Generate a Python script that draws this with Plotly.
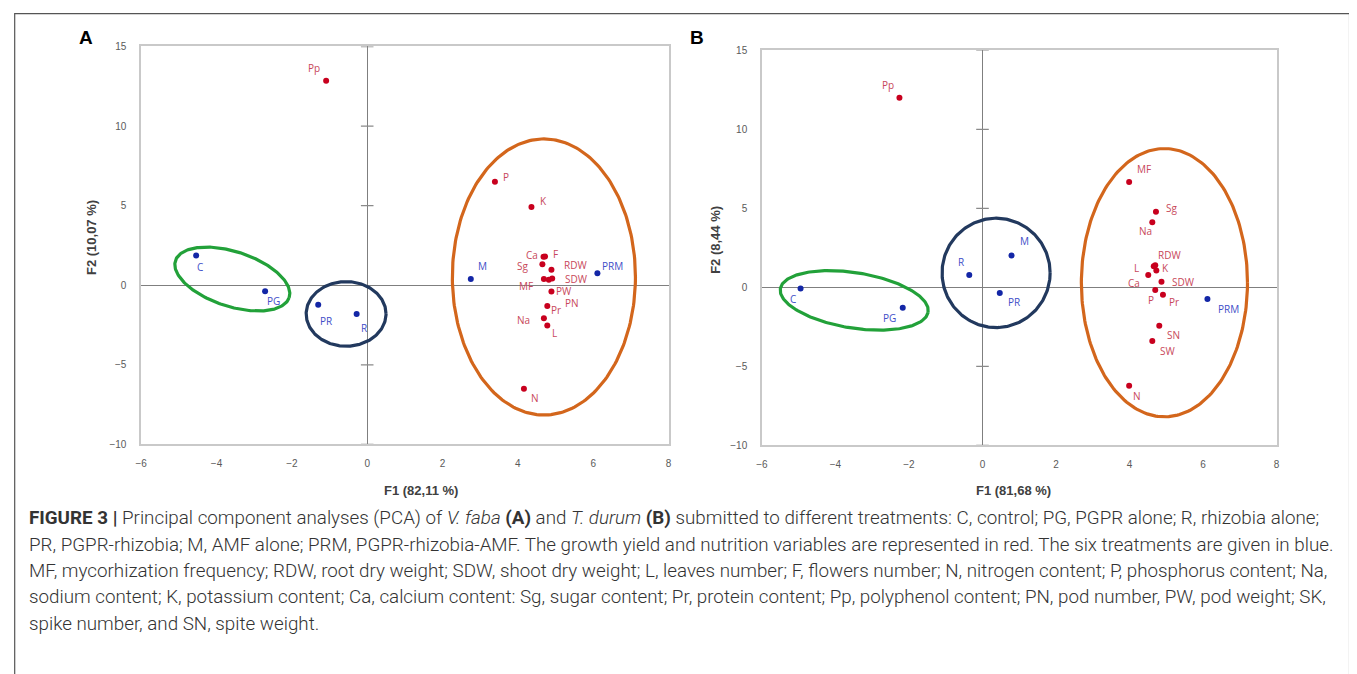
import numpy as np
import plotly.graph_objects as go

# ---------------- data ----------------
# Panel A (V. faba)
a_var_names = ["Pp", "P", "K", "Ca", "F", "Sg", "RDW", "SDW", "MF", "PW", "PN", "Pr", "Na", "L", "N"]
a_var_x = [-1.09, 3.39, 4.36, 4.68, 4.72, 4.65, 4.89, 4.91, 4.69, 4.82, 4.89, 4.78, 4.69, 4.78, 4.16]
a_var_y = [12.84, 6.50, 4.92, 1.79, 1.80, 1.32, 0.97, 0.42, 0.39, 0.35, -0.39, -1.30, -2.08, -2.53, -6.50]
a_trt_names = ["C", "PG", "PR", "R", "M", "PRM"]
a_trt_x = [-4.54, -2.71, -1.30, -0.28, 2.75, 6.11]
a_trt_y = [1.87, -0.37, -1.22, -1.81, 0.39, 0.76]

# Panel B (T. durum)
b_var_names = ["Pp", "MF", "Sg", "Na", "L", "RDW", "K", "Ca", "SDW", "P", "Pr", "SN", "SW", "N"]
b_var_x = [-2.26, 3.99, 4.72, 4.62, 4.66, 4.70, 4.73, 4.51, 4.87, 4.70, 4.91, 4.81, 4.62, 3.99]
b_var_y = [12.00, 6.68, 4.79, 4.13, 1.34, 1.40, 1.07, 0.78, 0.36, -0.16, -0.47, -2.43, -3.39, -6.22]
b_trt_names = ["C", "PG", "R", "M", "PR", "PRM"]
b_trt_x = [-4.95, -2.17, -0.36, 0.79, 0.47, 6.12]
b_trt_y = [-0.07, -1.29, 0.78, 2.02, -0.36, -0.73]

x_ticks = [-6, -4, -2, 0, 2, 4, 6, 8]
y_ticks = [-10, -5, 0, 5, 10, 15]
a_xtitle = "F1 (82,11 %)"
a_ytitle = "F2 (10,07 %)"
b_xtitle = "F1 (81,68 %)"
b_ytitle = "F2 (8,44 %)"

caption_lines = [
    "<b>FIGURE 3 |</b> Principal component analyses (PCA) of <i>V. faba</i> <b>(A)</b> and <i>T. durum</i> <b>(B)</b> submitted to different treatments: C, control; PG, PGPR alone; R, rhizobia alone;",
    "PR, PGPR-rhizobia; M, AMF alone; PRM, PGPR-rhizobia-AMF. The growth yield and nutrition variables are represented in red. The six treatments are given in blue.",
    "MF, mycorhization frequency; RDW, root dry weight; SDW, shoot dry weight; L, leaves number; F, flowers number; N, nitrogen content; P, phosphorus content; Na,",
    "sodium content; K, potassium content; Ca, calcium content: Sg, sugar content; Pr, protein content; Pp, polyphenol content; PN, pod number, PW, pod weight; SK,",
    "spike number, and SN, spite weight.",
]

# ---------------- styling (label offsets in px, dx right, dy down) ----------------
a_var_off = [(-12, -13), (11, -5), (12, -6), (-12, -2), (10, -3), (-20, 2), (24, -5), (24, 0),
             (-18, 7), (15, 11), (21, 12), (9, 4), (-20, 2), (7, 7), (11, 9)]
a_trt_off = [(4, 12), (8, 10), (8, 16), (7, 14), (12, -13), (15, -7)]
b_var_off = [(-11, -13), (15, -13), (16, -4), (-7, 9), (-17, 2), (14, -10), (9, -3), (-14, 8),
             (22, 0), (-4, 10), (11, 7), (14, 9), (15, 10), (8, 10)]
b_trt_off = [(-8, 10), (-13, 10), (-8, -13), (13, -14), (14, 9), (21, 10)]

# ellipses: centre + two conjugate semi-axis vectors in data units
a_ellipses = [((-3.58, 0.39), (1.508, -1.17), (0.233, 1.63), "#22a139"),
              ((-0.56, -1.80), (1.06, 0.0), (0.0, 2.03), "#22395e"),
              ((4.69, 0.52), (2.43, 0.0), (0.0, 8.67), "#d3661c")]
b_ellipses = [((-3.49, -0.82), (2.01, -0.74), (0.118, 1.73), "#22a139"),
              ((0.37, 0.92), (1.47, 0.0), (0.0, 3.46), "#22395e"),
              ((4.95, 0.30), (2.26, 0.0), (0.0, 8.49), "#d3661c")]

# the page body has an 8px margin: the figure is placed at (8, 8) in the window
OFF = 8
W, H = 1357 - OFF, 674 - OFF
RED_DOT, RED_TXT = "#c8001e", "#c8485a"
BLUE_DOT, BLUE_TXT = "#1326a6", "#3f4fc8"


def px(xw):
    return (xw - OFF) / W


def py(yw):
    return 1 - (yw - OFF) / H


fig = go.Figure()

panels = [
    dict(xa="x", ya="y", xdom=(136, 667), ydom=(42, 446),
         vn=a_var_names, vx=a_var_x, vy=a_var_y, voff=a_var_off,
         tn=a_trt_names, tx=a_trt_x, ty=a_trt_y, toff=a_trt_off, ell=a_ellipses,
         xt=a_xtitle, yt=a_ytitle, xtpos=(418, 493), ytpos=(86, 236), letter="A", lpos=(80, 33)),
    dict(xa="x2", ya="y2", xdom=(761, 1279), ydom=(46, 447),
         vn=b_var_names, vx=b_var_x, vy=b_var_y, voff=b_var_off,
         tn=b_trt_names, tx=b_trt_x, ty=b_trt_y, toff=b_trt_off, ell=b_ellipses,
         xt=b_xtitle, yt=b_ytitle, xtpos=(1014, 493), ytpos=(714, 238), letter="B", lpos=(696, 33)),
]

annotations = []
t = np.linspace(0, 2 * np.pi, 241)
for i, p in enumerate(panels):
    for (c, u, v, col) in p["ell"]:
        ex = c[0] + u[0] * np.cos(t) + v[0] * np.sin(t)
        ey = c[1] + u[1] * np.cos(t) + v[1] * np.sin(t)
        fig.add_trace(go.Scatter(x=ex, y=ey, mode="lines", line=dict(color=col, width=3.2),
                                 xaxis=p["xa"], yaxis=p["ya"], hoverinfo="skip", showlegend=False))
    yt_marks = [v for v in y_ticks if v != 0]
    fig.add_trace(go.Scatter(x=[0] * len(yt_marks), y=yt_marks, mode="markers",
                             marker=dict(symbol="line-ew", size=9, line=dict(color="#8a8a8a", width=1.3)),
                             xaxis=p["xa"], yaxis=p["ya"], hoverinfo="skip", showlegend=False))
    fig.add_trace(go.Scatter(x=p["vx"], y=p["vy"], mode="markers",
                             marker=dict(color=RED_DOT, size=6), xaxis=p["xa"], yaxis=p["ya"],
                             showlegend=False))
    fig.add_trace(go.Scatter(x=p["tx"], y=p["ty"], mode="markers",
                             marker=dict(color=BLUE_DOT, size=6), xaxis=p["xa"], yaxis=p["ya"],
                             showlegend=False))
    for names, xs, ys, offs, col in [(p["vn"], p["vx"], p["vy"], p["voff"], RED_TXT),
                                     (p["tn"], p["tx"], p["ty"], p["toff"], BLUE_TXT)]:
        for n, x, y, (dx, dy) in zip(names, xs, ys, offs):
            annotations.append(dict(x=x, y=y, xref=p["xa"], yref=p["ya"], text=n, showarrow=False,
                                    xshift=dx, yshift=-dy, xanchor="center", yanchor="middle",
                                    font=dict(family="Open Sans, Liberation Sans, sans-serif", size=10, color=col)))
    annotations.append(dict(x=px(p["xtpos"][0]), y=py(p["xtpos"][1]), xref="paper", yref="paper",
                            text="<b>%s</b>" % p["xt"], showarrow=False, xanchor="center", yanchor="middle",
                            font=dict(family="Liberation Sans, Arial, sans-serif", size=13, color="#404040")))
    annotations.append(dict(x=px(p["ytpos"][0]), y=py(p["ytpos"][1]), xref="paper", yref="paper",
                            text="<b>%s</b>" % p["yt"], showarrow=False, textangle=-90,
                            xanchor="center", yanchor="middle",
                            font=dict(family="Liberation Sans, Arial, sans-serif", size=13, color="#404040")))
    annotations.append(dict(x=px(p["lpos"][0]), y=py(p["lpos"][1]), xref="paper", yref="paper",
                            text="<b>%s</b>" % p["letter"], showarrow=False, xanchor="center", yanchor="middle",
                            font=dict(family="Liberation Sans, Arial, sans-serif", size=19, color="#000000")))

# caption
cap_y0, cap_dy = 521, 26.8
for k, line in enumerate(caption_lines):
    annotations.append(dict(x=px(21), y=py(cap_y0 + k * cap_dy), xref="paper", yref="paper",
                            text=line, showarrow=False, xanchor="left", yanchor="middle", align="left",
                            font=dict(family="Roboto, Liberation Sans, sans-serif", size=18.8,
                                      color="#333333", weight=300)))

axis_common = dict(showgrid=False, zeroline=True, zerolinecolor="#7f7f7f", zerolinewidth=1.4,
                   showline=True, mirror=True, linecolor="#c9c9c9", linewidth=1.5,
                   ticks="", tickfont=dict(family="Liberation Sans, Arial, sans-serif", size=10, color="#5a5a5a"),
                   fixedrange=True)

layout_axes = {}
for p, sx, sy in [(panels[0], "xaxis", "yaxis"), (panels[1], "xaxis2", "yaxis2")]:
    layout_axes[sx] = dict(axis_common, domain=[px(p["xdom"][0]), px(p["xdom"][1])], range=[-6, 8],
                           tickvals=x_ticks, anchor=p["ya"], ticklabelstandoff=9)
    layout_axes[sy] = dict(axis_common, domain=[py(p["ydom"][1]), py(p["ydom"][0])], range=[-10, 15],
                           tickvals=y_ticks, anchor=p["xa"], ticklabelstandoff=11)

fig.update_layout(width=W, height=H, margin=dict(l=0, r=0, t=0, b=0),
                  paper_bgcolor="white", plot_bgcolor="white", showlegend=False,
                  annotations=annotations,
                  shapes=[dict(type="path", xref="paper", yref="paper",
                               path="M %f %f L %f %f L %f %f L %f %f" % (
                                   px(8.7), py(690), px(8.7), py(8.7), px(1352.5), py(8.7), px(1352.5), py(690)),
                               line=dict(color="#555555", width=1.2))],
                  **layout_axes)

fig.write_html("out.html")
